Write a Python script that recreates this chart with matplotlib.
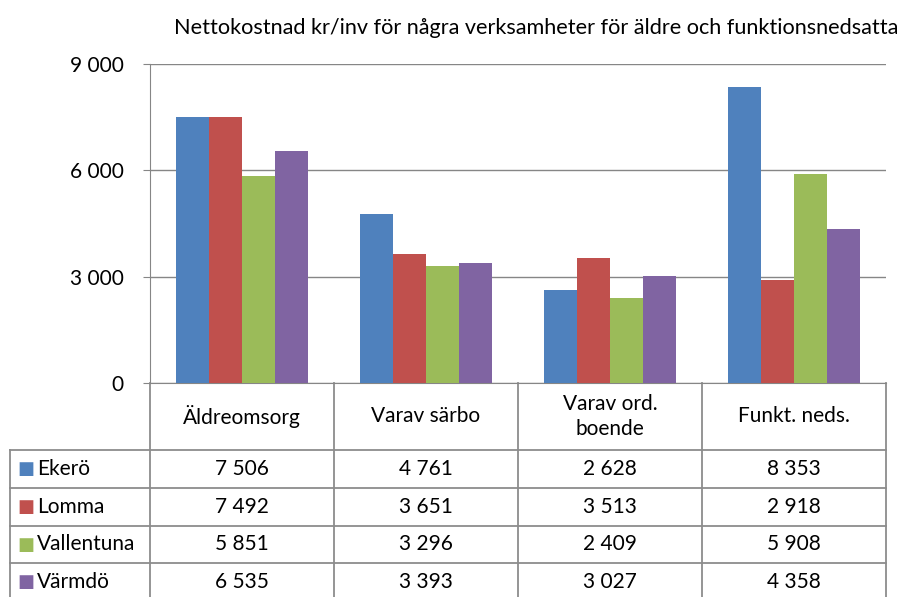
import numpy as np
import matplotlib.pyplot as plt
import matplotlib.transforms as mtransforms

plt.rcParams["font.family"] = ["Lato", "DejaVu Sans"]

title = "Nettokostnad kr/inv för några verksamheter för äldre och funktionsnedsatta"
categories = ["Äldreomsorg", "Varav särbo", "Varav ord.\nboende", "Funkt. neds."]
municipalities = ["Ekerö", "Lomma", "Vallentuna", "Värmdö"]
ekero = [7506, 4761, 2628, 8353]
lomma = [7492, 3651, 3513, 2918]
vallentuna = [5851, 3296, 2409, 5908]
varmdo = [6535, 3393, 3027, 4358]
series = [ekero, lomma, vallentuna, varmdo]
colors = ["#4F81BD", "#C0504D", "#9BBB59", "#8064A2"]
yticks = [0, 3000, 6000, 9000]

W, H = 904, 597
fig = plt.figure(figsize=(W / 100, H / 100), dpi=100)

# axes box in pixels
ax_l, ax_r, ax_t, ax_b = 150, 886, 64, 383
ax = fig.add_axes([ax_l / W, 1 - ax_b / H, (ax_r - ax_l) / W, (ax_b - ax_t) / H])

x = np.arange(len(categories))
bw = 0.18
for i, (vals, col) in enumerate(zip(series, colors)):
    ax.bar(x + (i - 1.5) * bw, vals, width=bw, color=col, zorder=3)

ax.set_xlim(-0.5, len(categories) - 0.5)
ax.set_ylim(0, 9000)
ax.set_yticks(yticks)
ax.set_yticklabels([f"{v:,}".replace(",", " ") for v in yticks], fontsize=15)
ax.set_xticks([])
ax.grid(axis="y", color="#868686", linewidth=1, zorder=0)
for s in ["top", "right"]:
    ax.spines[s].set_visible(False)
ax.spines["left"].set_color("#868686")
ax.spines["bottom"].set_color("#868686")
ax.tick_params(axis="y", length=5, color="#868686", pad=14)

fig.text(536 / W, 1 - 28 / H, title, ha="center", va="center", fontsize=15.6)

# data table below the axes
tr = mtransforms.blended_transform_factory(ax.transData, ax.transAxes)
ah = ax_b - ax_t
px_per_cat = (ax_r - ax_l) / len(categories)


def ya(py):
    return (ax_b - py) / ah


left_edge = -0.5 - (ax_l - 10) / px_per_cat
right_edge = len(categories) - 0.5
header_bottom = 450
row_h = 37.8
lc = "#8c8c8c"
line_kw = dict(color=lc, linewidth=1.3, transform=tr, clip_on=False)

# vertical lines
for k in range(len(categories) + 1):
    xe = k - 0.5
    ax.plot([xe, xe], [ya(ax_b), ya(H + 10)], **line_kw)
ax.plot([left_edge, left_edge], [ya(header_bottom), ya(H + 10)], **line_kw)
# horizontal lines
for r in range(len(municipalities)):
    yy = header_bottom + r * row_h
    ax.plot([left_edge, right_edge], [ya(yy), ya(yy)], **line_kw)

# header text
for k, cat in enumerate(categories):
    ax.text(k, ya((ax_b + header_bottom) / 2), cat, ha="center", va="center",
            fontsize=15, transform=tr, clip_on=False, linespacing=1.35)

# rows
for r, (name, vals, col) in enumerate(zip(municipalities, series, colors)):
    yc = ya(header_bottom + (r + 0.5) * row_h)
    ax.text(left_edge + 0.04, yc, "■", color=col, ha="left", va="center",
            fontsize=13, transform=tr, clip_on=False, family="DejaVu Sans")
    ax.text(left_edge + 0.145, yc, name, ha="left", va="center", fontsize=15,
            transform=tr, clip_on=False)
    for k, v in enumerate(vals):
        ax.text(k, yc, f"{v:,}".replace(",", " "), ha="center", va="center",
                fontsize=15, transform=tr, clip_on=False)

fig.savefig("out.png", dpi=100)
